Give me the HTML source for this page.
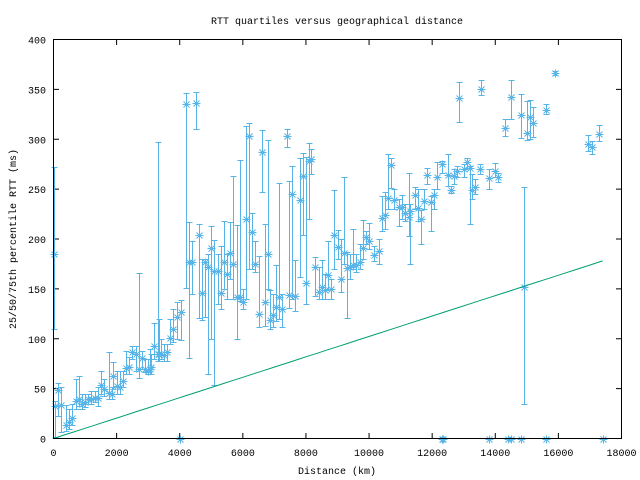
<!DOCTYPE html>
<html><head><meta charset="utf-8"><style>
html,body{margin:0;padding:0;background:#fff}
svg{display:block}
text{font-family:"Liberation Mono","DejaVu Sans Mono",monospace;font-size:10px;fill:#000}
</style></head><body>
<svg id="s" width="640" height="480" xmlns="http://www.w3.org/2000/svg">
<rect width="640" height="480" fill="#fff"/>
<g id="ax"></g>
<g id="dat" stroke="#56b4e9" stroke-width="1" fill="none"></g>
<polyline id="gl" stroke="#009e73" stroke-width="1" fill="none"/>
<rect x="53.5" y="39.5" width="568" height="399" fill="none" stroke="#000"/>
<text x="337" y="24" text-anchor="middle">RTT quartiles versus geographical distance</text>
<text x="337" y="474" text-anchor="middle">Distance (km)</text>
<text transform="translate(16,239) rotate(-90)" text-anchor="middle">25/50/75th percentile RTT (ms)</text>
</svg>
<script>
var X=function(v){return 53.5+v*568/18000},Y=function(v){return 438.5-v*399/400};
var ns="http://www.w3.org/2000/svg";
function el(p,t,a,txt){var e=document.createElementNS(ns,t);for(var k in a)e.setAttribute(k,a[k]);if(txt!==undefined)e.textContent=txt;p.appendChild(e);return e;}
var ax=document.getElementById('ax');
for(var i=0;i<=9;i++){var x=X(i*2000);el(ax,'line',{x1:x,x2:x,y1:438.5,y2:433,stroke:'#000'});el(ax,'line',{x1:x,x2:x,y1:39.5,y2:45,stroke:'#000'});el(ax,'text',{x:x,y:456,'text-anchor':'middle'},String(i*2000));}
for(var j=0;j<=8;j++){var y=Y(j*50);el(ax,'line',{x1:53.5,x2:59,y1:y,y2:y,stroke:'#000'});el(ax,'line',{x1:621.5,x2:616,y1:y,y2:y,stroke:'#000'});el(ax,'text',{x:46,y:y+4,'text-anchor':'end'},String(j*50));}
var D=[[0,185,110,272],[50,33,2,38],[150,49,23,56],[250,34,7,52],[400,14,8,34],[500,17,10,30],[600,21,14,35],[700,38,30,60],[800,40,33,63],[900,35,30,45],[1000,37,32,45],[1100,40,35,45],[1200,40,35,48],[1300,41,37,48],[1400,41,33,52],[1500,54,45,68],[1600,50,43,60],[1750,46,40,87],[1850,45,40,52],[1900,63,50,77],[2000,53,45,68],[2100,52,45,68],[2200,58,52,68],[2300,71,65,88],[2400,72,65,82],[2500,87,80,93],[2600,85,68,93],[2700,70,61,166],[2800,81,70,88],[2900,70,67,80],[3000,68,65,80],[3050,70,65,90],[3100,72,65,85],[3200,93,80,116],[3300,85,78,297],[3350,85,78,120],[3400,85,80,100],[3500,84,78,95],[3600,87,78,95],[3700,101,95,120],[3800,110,97,130],[3900,122,100,137],[4050,127,99,139],[4200,335,151,346],[4300,177,81,217],[4400,177,145,198],[4500,336,310,347],[4600,204,121,215],[4700,146,119,180],[4800,177,122,180],[4900,172,65,185],[5000,191,100,213],[5100,168,54,199],[5200,168,135,185],[5300,146,130,193],[5400,177,150,218],[5500,165,140,185],[5600,186,160,217],[5700,175,140,263],[5800,142,100,214],[5900,142,138,279],[6000,137,130,150],[6100,220,140,313],[6200,303,170,316],[6300,207,170,226],[6400,175,167,198],[6500,125,112,183],[6600,287,247,309],[6700,137,113,215],[6800,185,150,299],[6850,119,110,149],[6950,124,112,145],[7050,132,118,174],[7150,142,120,256],[7250,130,112,145],[7400,303,292,310],[7450,144,131,258],[7550,245,140,273],[7650,143,128,179],[7800,239,162,281],[7900,263,204,286],[8000,156,135,282],[8100,278,220,296],[8150,280,265,290],[8300,172,143,182],[8400,147,140,172],[8500,152,140,179],[8600,149,140,165],[8700,164,150,198],[8800,150,140,160],[8900,204,170,249],[9000,192,180,209],[9100,160,147,200],[9200,186,175,262],[9300,171,121,187],[9400,172,160,185],[9500,174,170,210],[9600,174,167,185],[9700,177,170,195],[9800,191,180,219],[9900,202,195,208],[10000,198,190,216],[10150,184,178,193],[10300,188,175,200],[10400,221,208,243],[10500,224,210,247],[10600,241,230,285],[10700,274,251,281],[10800,239,230,250],[10950,232,213,240],[11050,232,220,244],[11150,226,218,235],[11250,222,203,266],[11300,228,175,235],[11450,244,230,252],[11550,231,218,250],[11650,220,195,229],[11750,238,230,250],[11850,264,255,271],[11950,237,208,243],[12050,244,230,250],[12150,262,250,277],[12300,275,266,278],[12500,264,253,285],[12600,249,246,253],[12700,263,255,270],[12800,268,262,273],[12850,341,317,357],[13000,270,262,275],[13100,277,271,281],[13200,271,215,273],[13250,249,240,265],[13350,252,245,260],[13500,270,265,275],[13550,350,344,359],[13800,261,250,270],[14000,268,262,276],[14100,262,257,266],[14300,311,303,320],[14500,342,320,359],[14800,324,301,345],[14900,152,35,252],[15000,306,299,338],[15100,322,300,339],[15200,316,302,332],[15600,329,325,335],[15900,366,364,368],[16950,295,288,304],[17050,292,285,298],[17300,305,298,314]];
[4000,12300,12350,13800,14400,14500,14800,15600,17400].forEach(function(k){D.push([k,0,0,0]);});
var g=document.getElementById('dat'),d='';
D.forEach(function(p){var x=Math.round(X(p[0]))+0.5,y=Math.round(Y(p[1]))+0.5,lo=Math.round(Y(p[2]))+0.5,hi=Math.round(Y(p[3]))+0.5;
if(p[3]!=p[2]){d+='M'+x+' '+lo+'V'+hi+'M'+(x-3)+' '+lo+'h6M'+(x-3)+' '+hi+'h6';}
d+='M'+(x-4)+' '+y+'h8M'+x+' '+(y-4)+'v8M'+(x-3)+' '+(y-3)+'l6 6M'+(x-3)+' '+(y+3)+'l6 -6';});
el(g,'path',{d:d});
var pts=[];for(var k=0;k<=17400;k+=300){pts.push(X(k).toFixed(1)+','+Y(k*178/17400).toFixed(1));}
document.getElementById('gl').setAttribute('points',pts.join(' '));
</script>
</body></html>
